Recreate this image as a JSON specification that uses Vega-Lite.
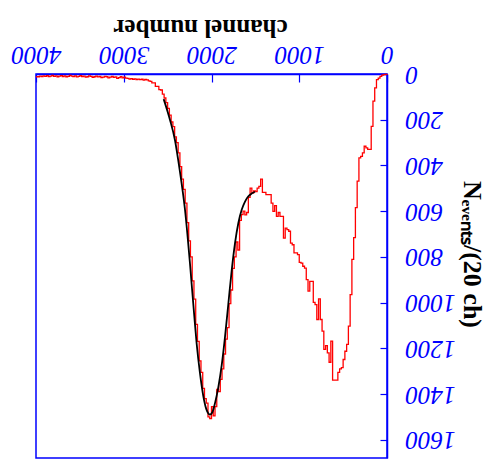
{
  "$schema": "https://vega.github.io/schema/vega-lite/v6.json",
  "width": 351,
  "height": 384,
  "autosize": {"type": "none"},
  "padding": {"left": 36, "top": 74, "right": 102, "bottom": 11},
  "background": "white",
  "config": {"view": {"stroke": "#0000ff", "strokeWidth": 1.5}},
  "datasets": {
    "hist": [
      {"ch":0,"n":0},{"ch":20,"n":2},{"ch":40,"n":3},{"ch":60,"n":5},{"ch":80,"n":10},{"ch":100,"n":18},{"ch":120,"n":25},{"ch":140,"n":61},{"ch":160,"n":119},{"ch":180,"n":229},
      {"ch":200,"n":330},{"ch":220,"n":330},{"ch":240,"n":323},{"ch":260,"n":316},{"ch":280,"n":345},{"ch":300,"n":360},{"ch":320,"n":367},{"ch":340,"n":469},{"ch":360,"n":585},{"ch":380,"n":716},
      {"ch":400,"n":811},{"ch":420,"n":965},{"ch":440,"n":1103},{"ch":460,"n":1183},{"ch":480,"n":1213},{"ch":500,"n":1249},{"ch":520,"n":1285},{"ch":540,"n":1290},{"ch":560,"n":1305},{"ch":580,"n":1339},
      {"ch":600,"n":1339},{"ch":620,"n":1339},{"ch":640,"n":1169},{"ch":660,"n":1261},{"ch":680,"n":1220},{"ch":700,"n":1188},{"ch":720,"n":1205},{"ch":740,"n":1125},{"ch":760,"n":1074},{"ch":780,"n":984},
      {"ch":800,"n":1074},{"ch":820,"n":1009},{"ch":840,"n":999},{"ch":860,"n":907},{"ch":880,"n":907},{"ch":900,"n":950},{"ch":920,"n":900},{"ch":940,"n":849},{"ch":960,"n":841},{"ch":980,"n":827},
      {"ch":1000,"n":824},{"ch":1020,"n":790},{"ch":1040,"n":783},{"ch":1060,"n":783},{"ch":1080,"n":747},{"ch":1100,"n":740},{"ch":1120,"n":688},{"ch":1140,"n":681},{"ch":1160,"n":674},{"ch":1180,"n":718},
      {"ch":1200,"n":623},{"ch":1220,"n":623},{"ch":1240,"n":606},{"ch":1260,"n":623},{"ch":1280,"n":576},{"ch":1300,"n":601},{"ch":1320,"n":565},{"ch":1340,"n":528},{"ch":1360,"n":528},{"ch":1380,"n":528},
      {"ch":1400,"n":518},{"ch":1420,"n":518},{"ch":1440,"n":460},{"ch":1460,"n":492},{"ch":1480,"n":499},{"ch":1500,"n":514},{"ch":1520,"n":511},{"ch":1540,"n":521},{"ch":1560,"n":499},{"ch":1580,"n":540},
      {"ch":1600,"n":606},{"ch":1620,"n":616},{"ch":1640,"n":600},{"ch":1660,"n":615},{"ch":1680,"n":640},{"ch":1700,"n":770},{"ch":1720,"n":735},{"ch":1740,"n":800},{"ch":1760,"n":850},{"ch":1780,"n":945},
      {"ch":1800,"n":1005},{"ch":1820,"n":1110},{"ch":1840,"n":1160},{"ch":1860,"n":1225},{"ch":1880,"n":1290},{"ch":1900,"n":1336},{"ch":1920,"n":1390},{"ch":1940,"n":1380},{"ch":1960,"n":1455},{"ch":1980,"n":1496},
      {"ch":2000,"n":1455},{"ch":2020,"n":1508},{"ch":2040,"n":1500},{"ch":2060,"n":1440},{"ch":2080,"n":1420},{"ch":2100,"n":1375},{"ch":2120,"n":1305},{"ch":2140,"n":1255},{"ch":2160,"n":1170},{"ch":2180,"n":1095},
      {"ch":2200,"n":985},{"ch":2220,"n":905},{"ch":2240,"n":800},{"ch":2260,"n":730},{"ch":2280,"n":650},{"ch":2300,"n":565},{"ch":2320,"n":505},{"ch":2340,"n":460},{"ch":2360,"n":405},{"ch":2380,"n":345},
      {"ch":2400,"n":300},{"ch":2420,"n":275},{"ch":2440,"n":230},{"ch":2460,"n":210},{"ch":2480,"n":180},{"ch":2500,"n":150},{"ch":2520,"n":125},{"ch":2540,"n":105},{"ch":2560,"n":88},{"ch":2580,"n":70},
      {"ch":2600,"n":68},{"ch":2620,"n":54},{"ch":2640,"n":54},{"ch":2660,"n":39},{"ch":2680,"n":39},{"ch":2700,"n":32},{"ch":2720,"n":30},{"ch":2740,"n":26},{"ch":2760,"n":24},{"ch":2780,"n":27},
      {"ch":2800,"n":23},{"ch":2820,"n":25},{"ch":2840,"n":22},{"ch":2860,"n":24},{"ch":2880,"n":21},{"ch":2900,"n":23},{"ch":2920,"n":20},{"ch":2940,"n":22},{"ch":2960,"n":19},{"ch":2980,"n":18},
      {"ch":3000,"n":14},{"ch":3020,"n":17},{"ch":3040,"n":12},{"ch":3060,"n":16},{"ch":3080,"n":19},{"ch":3100,"n":13},{"ch":3120,"n":15},{"ch":3140,"n":11},{"ch":3160,"n":14},{"ch":3180,"n":17},
      {"ch":3200,"n":12},{"ch":3220,"n":10},{"ch":3240,"n":14},{"ch":3260,"n":16},{"ch":3280,"n":11},{"ch":3300,"n":13},{"ch":3320,"n":9},{"ch":3340,"n":12},{"ch":3360,"n":15},{"ch":3380,"n":10},
      {"ch":3400,"n":8},{"ch":3420,"n":12},{"ch":3440,"n":14},{"ch":3460,"n":9},{"ch":3480,"n":11},{"ch":3500,"n":7},{"ch":3520,"n":10},{"ch":3540,"n":13},{"ch":3560,"n":8},{"ch":3580,"n":11},
      {"ch":3600,"n":9},{"ch":3620,"n":6},{"ch":3640,"n":10},{"ch":3660,"n":12},{"ch":3680,"n":8},{"ch":3700,"n":11},{"ch":3720,"n":7},{"ch":3740,"n":9},{"ch":3760,"n":12},{"ch":3780,"n":8},
      {"ch":3800,"n":10},{"ch":3820,"n":6},{"ch":3840,"n":9},{"ch":3860,"n":11},{"ch":3880,"n":7},{"ch":3900,"n":10},{"ch":3920,"n":8},{"ch":3940,"n":11},{"ch":3960,"n":9},{"ch":3980,"n":12},
      {"ch":4000,"n":12}
    ],
    "fit": [
      {"ch":1504,"n":515},{"ch":1540,"n":522},{"ch":1580,"n":535},{"ch":1618,"n":558},{"ch":1656,"n":594},{"ch":1694,"n":652},{"ch":1732,"n":740},{"ch":1770,"n":860},
      {"ch":1808,"n":1005},{"ch":1846,"n":1150},{"ch":1884,"n":1275},{"ch":1922,"n":1370},{"ch":1960,"n":1440},{"ch":1990,"n":1480},{"ch":2017,"n":1490},{"ch":2036,"n":1485},
      {"ch":2060,"n":1465},{"ch":2093,"n":1410},{"ch":2131,"n":1310},{"ch":2169,"n":1180},{"ch":2196,"n":1060},{"ch":2226,"n":920},{"ch":2245,"n":830},{"ch":2275,"n":700},
      {"ch":2302,"n":594},{"ch":2340,"n":480},{"ch":2378,"n":380},{"ch":2416,"n":290},{"ch":2473,"n":201},{"ch":2500,"n":165},{"ch":2545,"n":110}
    ]
  },
  "layer": [
    {
      "data": {"name": "hist"},
      "mark": {"type": "line", "interpolate": "step-after", "color": "#ff0000", "strokeWidth": 1.3},
      "encoding": {
        "x": {
          "field": "ch", "type": "quantitative",
          "scale": {"domain": [0, 4000], "reverse": true, "nice": false, "zero": false},
          "axis": {
            "orient": "top", "values": [0, 1000, 2000, 3000, 4000], "format": "d",
            "title": "channel number", "titleFont": "Liberation Serif", "titleFontWeight": "bold",
            "titleFontSize": 25, "titleColor": "black", "titleAngle": 180,
            "titleX": 164, "titleY": -47, "titleAlign": "center", "titleBaseline": "middle",
            "labelFont": "Liberation Serif", "labelFontStyle": "italic", "labelFontSize": 25,
            "labelColor": "#0000ff", "labelAngle": 180, "labelAlign": "center", "labelBaseline": "middle",
            "labelPadding": 28, "labelFlush": false, "labelOverlap": false,
            "tickSize": -8, "tickColor": "#0000ff", "tickWidth": 1.2,
            "domainColor": "#0000ff", "domainWidth": 1.5, "grid": false
          }
        },
        "y": {
          "field": "n", "type": "quantitative",
          "scale": {"domain": [0, 1680], "reverse": true, "nice": false},
          "axis": {
            "orient": "right",
            "values": [0,50,100,150,200,250,300,350,400,450,500,550,600,650,700,750,800,850,900,950,1000,1050,1100,1150,1200,1250,1300,1350,1400,1450,1500,1550,1600,1650],
            "format": "d",
            "labelExpr": "datum.value % 200 === 0 ? datum.label : ''",
            "title": "Nₑᵥₑₙₜₛ/(20 ch)", "titleFont": "Liberation Serif", "titleFontWeight": "bold",
            "titleFontSize": 26, "titleColor": "black", "titleAngle": 90,
            "titleX": 84, "titleY": 180, "titleAlign": "center", "titleBaseline": "middle",
            "labelFont": "Liberation Serif", "labelFontStyle": "italic", "labelFontSize": 25,
            "labelColor": "#0000ff", "labelAngle": 180, "labelAlign": "right", "labelBaseline": "middle",
            "labelPadding": 25, "labelFlush": false, "labelOverlap": false,
            "tickSize": {"condition": {"test": "datum.value % 200 === 0", "value": -7}, "value": -4},
            "tickColor": "#0000ff", "tickWidth": 1.2,
            "domainColor": "#0000ff", "domainWidth": 1.5, "grid": false
          }
        }
      }
    },
    {
      "data": {"name": "fit"},
      "mark": {"type": "line", "interpolate": "monotone", "color": "black", "strokeWidth": 1.8},
      "encoding": {
        "x": {"field": "ch", "type": "quantitative"},
        "y": {"field": "n", "type": "quantitative"}
      }
    }
  ]
}
